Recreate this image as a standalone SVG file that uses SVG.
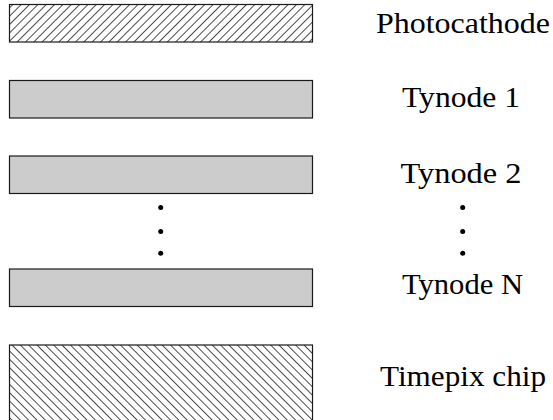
<svg xmlns="http://www.w3.org/2000/svg" width="553" height="420" viewBox="0 0 553 420">
<style>
.lbl{font-family:"Liberation Serif","Times New Roman",serif;font-size:30px;fill:#000;text-anchor:middle}
.dyn{fill:#cccccc;stroke:#1a1a1a;stroke-width:1.2}
.hatch{stroke:#1a1a1a;stroke-width:1.2}
.dot{fill:#000}
</style>
<defs>
<pattern id="hatchF" patternUnits="userSpaceOnUse" width="5.9" height="5.9" patternTransform="rotate(45)">
<line x1="0" y1="0" x2="0" y2="5.9" stroke="#000" stroke-width="1.4"/>
</pattern>
<pattern id="hatchB" patternUnits="userSpaceOnUse" width="5.9" height="5.9" patternTransform="rotate(-45)">
<line x1="0" y1="0" x2="0" y2="5.9" stroke="#000" stroke-width="1.4"/>
</pattern>
</defs>
<g id="photocathode">
<rect x="9.5" y="4.5" width="303" height="37.5" fill="#fff"/>
<rect class="hatch" x="9.5" y="4.5" width="303" height="37.5" fill="url(#hatchF)"/>
<text class="lbl" x="463" y="33" textLength="174" lengthAdjust="spacingAndGlyphs">Photocathode</text>
</g>
<g id="tynode1">
<rect class="dyn" x="9.5" y="80.5" width="303" height="37.5"/>
<text class="lbl" x="461" y="106.5" textLength="118" lengthAdjust="spacingAndGlyphs">Tynode 1</text>
</g>
<g id="tynode2">
<rect class="dyn" x="9.5" y="156" width="303" height="37.5"/>
<text class="lbl" x="461" y="183" textLength="121" lengthAdjust="spacingAndGlyphs">Tynode 2</text>
</g>
<g id="dots">
<circle class="dot" cx="160.7" cy="207.5" r="2.5"/>
<circle class="dot" cx="160.7" cy="231.5" r="2.5"/>
<circle class="dot" cx="160.7" cy="253.3" r="2.5"/>
<circle class="dot" cx="462.7" cy="207.5" r="2.5"/>
<circle class="dot" cx="462.7" cy="231.5" r="2.5"/>
<circle class="dot" cx="462.7" cy="253.3" r="2.5"/>
</g>
<g id="tynodeN">
<rect class="dyn" x="9.5" y="269" width="303" height="37.5"/>
<text class="lbl" x="462.5" y="294" textLength="121" lengthAdjust="spacingAndGlyphs">Tynode N</text>
</g>
<g id="timepix">
<rect x="9.5" y="345" width="303" height="80" fill="#fff"/>
<rect class="hatch" x="9.5" y="345" width="303" height="80" fill="url(#hatchB)"/>
<text class="lbl" x="463" y="386" textLength="166" lengthAdjust="spacingAndGlyphs">Timepix chip</text>
</g>
<g id="connectors"></g>
</svg>
